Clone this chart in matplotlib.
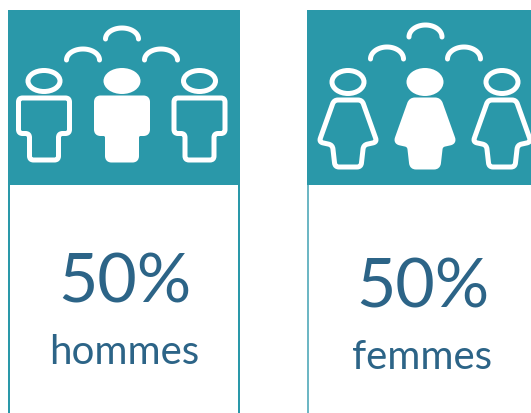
import numpy as np
import matplotlib
matplotlib.use('Agg')
import matplotlib.pyplot as plt
from matplotlib.path import Path
from matplotlib.patches import PathPatch, Ellipse, Rectangle

labels = ['hommes', 'femmes']
percents = [50, 50]

TEAL = '#2A98A9'
BLUE = '#2C6487'
PX = 0.72  # one pixel in points at dpi 100

fig = plt.figure(figsize=(5.31, 4.14), dpi=100)
ax = fig.add_axes([0, 0, 1, 1])
ax.set_xlim(0, 531)
ax.set_ylim(414, 0)
ax.axis('off')


def rounded(points, r):
    # closed outline with rounded corners
    pts = [np.array(p, dtype=float) for p in points]
    verts, codes = [], []
    n = len(pts)
    for i in range(n):
        p, prev, nxt = pts[i], pts[i - 1], pts[(i + 1) % n]
        a = p + (prev - p) / np.linalg.norm(prev - p) * min(r, np.linalg.norm(prev - p) / 2)
        b = p + (nxt - p) / np.linalg.norm(nxt - p) * min(r, np.linalg.norm(nxt - p) / 2)
        verts.append(a)
        codes.append(Path.MOVETO if i == 0 else Path.LINETO)
        verts += [p, b]
        codes += [Path.CURVE3, Path.CURVE3]
    verts.append(verts[0])
    codes.append(Path.CLOSEPOLY)
    return Path(verts, codes)


def man(cx):
    return [(cx - 25.5, 99), (cx + 25.5, 99), (cx + 25.5, 134.5), (cx + 14.5, 134.5),
            (cx + 14.5, 161), (cx - 14.5, 161), (cx - 14.5, 134.5), (cx - 25.5, 134.5)]


def woman(cx):
    return [(cx - 14, 101), (cx + 14, 101), (cx + 29, 143), (cx + 15.5, 146),
            (cx + 13, 168), (cx - 13, 168), (cx - 15.5, 146), (cx - 29, 143)]


def person(cx, head_y, head_h, body, solid, r):
    if solid:
        ax.add_patch(Ellipse((cx, head_y), 37, head_h, fc='white', ec='none'))
    else:
        ax.add_patch(Ellipse((cx, head_y), 32, head_h - 5, fc='none', ec='white', lw=5 * PX))
    ax.add_patch(PathPatch(rounded(body, r), fc='white' if solid else 'none', ec='white',
                           lw=5 * PX, joinstyle='round'))


def arc(cx, y_end, y_top):
    t = np.linspace(np.pi, 2 * np.pi, 30)
    ax.plot(cx + 16.5 * np.cos(t), y_end + (y_end - y_top) * np.sin(t), color='white',
            lw=5 * PX, solid_capstyle='round')


# panels: outline first, header block on top
ax.add_patch(Rectangle((9, 180), 230, 240, fc='white', ec=TEAL, lw=2 * PX))
ax.add_patch(Rectangle((8, 11), 232, 175, fc=TEAL, ec='none'))
ax.add_patch(Rectangle((308, 180), 240, 240, fc='white', ec='#6DB7C4', lw=2 * PX))
ax.add_patch(Rectangle((307, 11), 230, 175, fc=TEAL, ec='none'))

# left icons
for cx, solid in zip([44, 122, 199.5], [False, True, False]):
    person(cx, 82, 26, man(cx), solid, 4)
for cx, y_end, y_top in [(122, 40, 29), (83, 61, 50), (161, 61, 50)]:
    arc(cx, y_end, y_top)

# right icons
for cx, solid in zip([348, 425, 502], [False, True, False]):
    person(cx, 83, 28, woman(cx), solid, 4)
for cx, y_end, y_top in [(425.5, 38, 26), (387, 60, 48), (464, 60, 48)]:
    arc(cx, y_end, y_top)

# texts
for x, y, p in zip([124.5, 423], [303, 308], percents):
    ax.text(x, y, f'{p}%', color=BLUE, fontsize=49, family='Lato', ha='center', va='baseline')
for x, y, name in zip([124, 422], [364, 369], labels):
    ax.text(x, y, name, color=BLUE, fontsize=29, family='Lato', ha='center', va='baseline')

fig.savefig('out.png', dpi=100)
